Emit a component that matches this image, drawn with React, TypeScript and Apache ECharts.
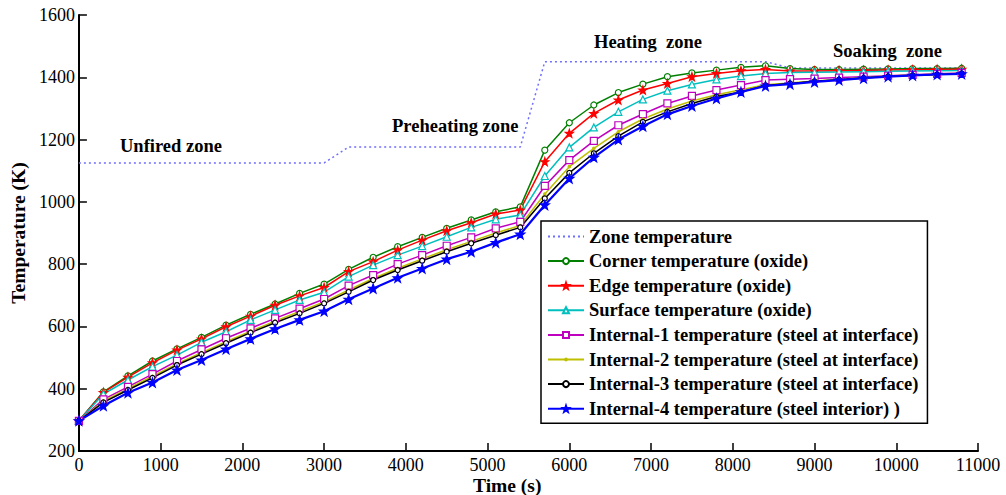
import React, { useEffect, useRef } from "react";
import * as echarts from "echarts";

// Time stamps (s), sampled every 300 s
const times: number[] = Array.from({ length: 37 }, (_, i) => i * 300);

// Furnace zone set-point temperature (K) as a step profile
const zoneTimes = [0, 3000, 3300, 5400, 5700, 8400, 8700, 10800];
const zoneTemps = [1125, 1125, 1176, 1176, 1450, 1450, 1430, 1430];

const cornerTemp = [297, 390, 441, 489, 528, 565, 604, 639, 672, 706, 736, 783, 822, 856, 886, 915, 942, 968, 984, 1166, 1254, 1311, 1351, 1378, 1402, 1414, 1423, 1432, 1437, 1428, 1425, 1425, 1426, 1427, 1428, 1428, 1429];
const edgeTemp = [297, 388, 437, 483, 524, 560, 599, 633, 668, 698, 725, 776, 808, 845, 877, 907, 933, 961, 974, 1129, 1220, 1284, 1327, 1359, 1380, 1402, 1412, 1421, 1425, 1420, 1420, 1421, 1422, 1423, 1424, 1425, 1426];
const surfaceTemp = [297, 383, 428, 471, 508, 549, 583, 621, 653, 685, 710, 760, 797, 829, 858, 888, 918, 944, 958, 1083, 1175, 1239, 1289, 1329, 1357, 1377, 1393, 1404, 1412, 1415, 1416, 1417, 1418, 1419, 1420, 1421, 1422];
const internal1Temp = [297, 366, 406, 447, 489, 526, 562, 594, 626, 657, 688, 731, 765, 800, 829, 859, 886, 915, 936, 1051, 1134, 1196, 1246, 1282, 1316, 1340, 1359, 1375, 1391, 1394, 1396, 1399, 1402, 1405, 1408, 1411, 1414];
const internal2Temp = [297, 360, 400, 440, 480, 516, 551, 585, 617, 648, 679, 717, 754, 787, 817, 846, 873, 900, 924, 1025, 1113, 1172, 1225, 1266, 1298, 1324, 1344, 1360, 1376, 1382, 1388, 1393, 1399, 1404, 1407, 1410, 1413];
const internal3Temp = [297, 356, 396, 435, 476, 511, 546, 580, 612, 642, 674, 711, 749, 781, 811, 840, 867, 893, 918, 1011, 1093, 1156, 1211, 1257, 1289, 1316, 1338, 1353, 1374, 1380, 1387, 1392, 1398, 1403, 1406, 1409, 1412];
const internal4Temp = [297, 345, 387, 420, 460, 492, 527, 560, 592, 621, 649, 687, 722, 756, 786, 816, 840, 869, 896, 990, 1075, 1143, 1200, 1243, 1281, 1308, 1332, 1353, 1372, 1378, 1385, 1391, 1397, 1402, 1406, 1409, 1411];

const seriesNames = [
  "Zone temperature",
  "Corner temperature (oxide)",
  "Edge temperature (oxide)",
  "Surface temperature (oxide)",
  "Internal-1 temperature (steel at interface)",
  "Internal-2 temperature (steel at interface)",
  "Internal-3 temperature (steel at interface)",
  "Internal-4 temperature (steel interior) )",
];

const zoneLabels = [
  { text: "Unfired zone", x: 120, y: 136 },
  { text: "Preheating zone", x: 392, y: 116 },
  { text: "Heating  zone", x: 594, y: 32 },
  { text: "Soaking  zone", x: 833, y: 41 },
];

// Five-pointed star marker
const STAR =
  "path://M0,-10 L2.35,-3.24 L9.51,-3.09 L3.8,1.24 L5.88,8.09 L0,4 L-5.88,8.09 L-3.8,1.24 L-9.51,-3.09 L-2.35,-3.24 Z";
// Small point marker: a tiny dot inside a larger (empty) bounding box
const POINT =
  "path://M-10,-10 M10,10 M-3,0 A3,3 0 1 1 3,0 A3,3 0 1 1 -3,0 Z";

const FONT = "'Liberation Serif', 'DejaVu Serif', serif";

function pair(values: number[]) {
  return times.map((t, i) => [t, values[i]]);
}

export default function App() {
  const ref = useRef<HTMLDivElement>(null);

  useEffect(() => {
    if (!ref.current) return;
    const chart = echarts.init(ref.current, undefined, { renderer: "svg" });

    const lineSeries = (
      name: string,
      values: number[],
      color: string,
      symbol: string,
      symbolSize: number,
      filled: boolean,
      width = 1.5
    ) => ({
      name,
      type: "line",
      data: pair(values),
      symbol,
      symbolSize,
      showSymbol: true,
      lineStyle: { color, width },
      itemStyle: {
        color: filled ? color : "#ffffff",
        borderColor: color,
        borderWidth: 1.2,
      },
      emphasis: { disabled: true },
    });

    const axisLabelFmt = (v: number) => String(v);

    chart.setOption({
      animation: false,
      backgroundColor: "#ffffff",
      grid: { left: 75.5, right: 28, top: 15, bottom: 44, containLabel: false },
      xAxis: {
        type: "value",
        min: 0,
        max: 11000,
        interval: 1000,
        axisLine: { show: true, lineStyle: { color: "#000", width: 2 } },
        axisTick: { show: true, inside: true, length: 8, lineStyle: { color: "#000", width: 1.5 } },
        axisLabel: { fontFamily: FONT, fontSize: 18, color: "#000", margin: 5, formatter: axisLabelFmt },
        splitLine: { show: false },
      },
      yAxis: {
        type: "value",
        min: 200,
        max: 1600,
        interval: 200,
        name: "Temperature (K)",
        nameLocation: "middle",
        nameRotate: 90,
        nameGap: 48,
        nameTextStyle: { fontFamily: FONT, fontWeight: "bold", fontSize: 19.5, color: "#000" },
        axisLine: { show: true, lineStyle: { color: "#000", width: 2 } },
        axisTick: { show: true, inside: true, length: 8, lineStyle: { color: "#000", width: 1.5 } },
        axisLabel: { fontFamily: FONT, fontSize: 18, color: "#000", margin: 4, formatter: axisLabelFmt },
        splitLine: { show: false },
      },
      legend: {
        orient: "vertical",
        left: 541,
        top: 221,
        padding: [6, 9, 5, 6],
        itemGap: 5.6,
        itemWidth: 36,
        itemHeight: 7.5,
        backgroundColor: "#ffffff",
        borderColor: "#000",
        borderWidth: 1.5,
        borderRadius: 0,
        data: seriesNames,
        textStyle: {
          fontFamily: FONT,
          fontWeight: "bold",
          fontSize: 18.5,
          color: "#000",
        },
      },
      graphic: [
        ...zoneLabels.map((z) => ({
          type: "text",
          left: z.x,
          top: z.y,
          style: { text: z.text, font: `bold 18.5px ${FONT}`, fill: "#000" },
        })),
        {
          type: "text",
          left: 473,
          top: 475,
          style: { text: "Time (s)", font: `bold 19.5px ${FONT}`, fill: "#000" },
        },
      ],
      series: [
        {
          name: seriesNames[0],
          type: "line",
          data: zoneTimes.map((t, i) => [t, zoneTemps[i]]),
          symbol: "circle",
          showSymbol: false,
          lineStyle: { color: "#6f6fff", width: 1.5, type: [2, 3] },
          itemStyle: { color: "rgba(0,0,0,0)", borderWidth: 0 },
          emphasis: { disabled: true },
        },
        lineSeries(seriesNames[1], cornerTemp, "#007f00", "circle", 6, false),
        lineSeries(seriesNames[2], edgeTemp, "#ff0000", STAR, 8, true),
        lineSeries(seriesNames[3], surfaceTemp, "#00bfbf", "triangle", 7, false),
        lineSeries(seriesNames[4], internal1Temp, "#bf00bf", "rect", 7, false),
        lineSeries(seriesNames[5], internal2Temp, "#bfbf00", POINT, 8, true),
        lineSeries(seriesNames[6], internal3Temp, "#000000", "circle", 5, false),
        lineSeries(seriesNames[7], internal4Temp, "#0000ff", STAR, 9, true, 2.2),
      ],
    });

    return () => chart.dispose();
  }, []);

  return (
    <div
      ref={ref}
      style={{ position: "fixed", left: 0, top: 0, width: 1006, height: 495, background: "#fff" }}
    />
  );
}
